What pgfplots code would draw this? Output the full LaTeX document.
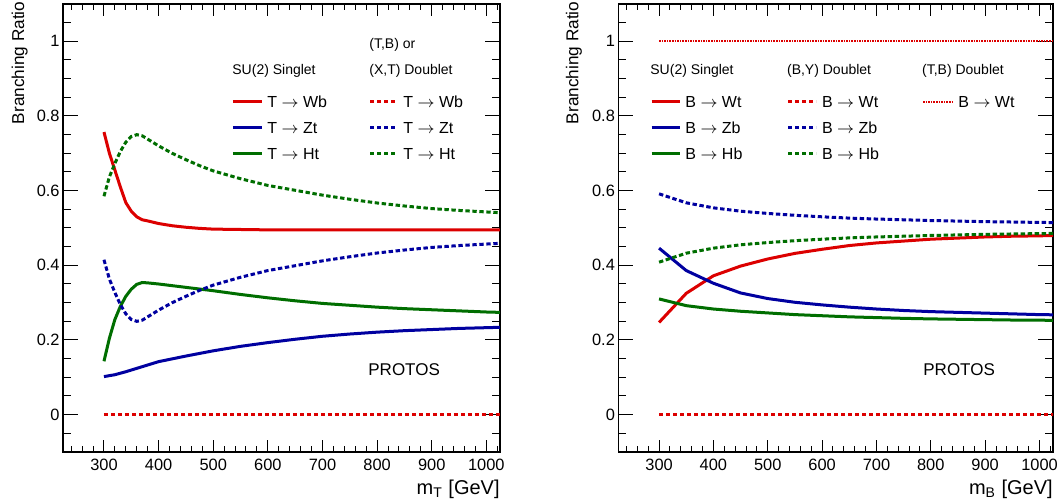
\documentclass[border=0pt]{standalone}
\usepackage{pgfplots}
\pgfplotsset{compat=1.18}
\usepackage{fontspec}
\setmainfont{Liberation Sans}
\definecolor{rred}{RGB}{220,0,0}
\definecolor{rblue}{RGB}{0,0,160}
\definecolor{rgreen}{RGB}{0,110,0}
\tikzset{
  solidl/.style={line width=1.5pt},
  dashl/.style={line width=1.5pt, dash pattern=on 2.2pt off 1.3pt},
  dotl/.style={line width=1.1pt, dash pattern=on 0.8pt off 0.5pt},
}
\pgfplotsset{rootax/.style={
  scale only axis, height=224pt,
  xmin=225, xmax=1025, ymin=-0.1, ymax=1.1,
  xtick={300,400,...,1000}, minor xtick={240,260,...,1020},
  ytick={0,0.2,0.4,0.6,0.8,1},
  minor ytick={-0.05,0.05,0.1,0.15,0.25,0.3,0.35,0.45,0.5,0.55,0.65,0.7,0.75,0.85,0.9,0.95,1.05},
  tick align=inside,
  axis line style={line width=0.6pt},
  every tick/.style={black, line width=0.5pt},
  xtick style={/pgfplots/major tick length=6.2pt, /pgfplots/minor tick length=3.2pt},
  ytick style={/pgfplots/major tick length=7.5pt, /pgfplots/minor tick length=4pt},
  ticklabel style={font=\fontsize{8.2}{9}\selectfont},
  yticklabel style={inner xsep=1.5pt},
  /pgf/number format/assume math mode=true,
  /pgf/number format/1000 sep={},
  xlabel style={at={(axis description cs:1,0)}, anchor=base east, yshift=-21.5pt, inner sep=0pt, font=\fontsize{10}{12}\selectfont},
  ylabel style={anchor=base east, inner sep=0pt, font=\fontsize{8.6}{10}\selectfont},
  ylabel={Branching Ratio},
  clip=true,
}}
\begin{document}
\begin{tikzpicture}
\useasboundingbox (-31.5pt,-26pt) rectangle (499.5pt,226pt);
% ---------------- left panel ----------------
\begin{axis}[rootax, at={(0pt,0pt)}, anchor=south west, width=218.5pt,
  xlabel={m\textsubscript{T} [GeV]},
  ylabel style={at={(axis description cs:-0.0892,1.006)}}]
\addplot[rred, solidl] coordinates {(300,0.757)(310,0.70)(320,0.655)(330,0.61)(340,0.568)(350,0.545)(360,0.53)(370,0.522)(380,0.519)(400,0.512)(425,0.506)(450,0.502)(475,0.499)(500,0.497)(550,0.496)(600,0.495)(700,0.495)(800,0.495)(900,0.495)(1000,0.495)(1050,0.495)};
\addplot[rblue, solidl] coordinates {(300,0.102)(320,0.107)(340,0.115)(360,0.124)(380,0.133)(400,0.142)(450,0.157)(500,0.171)(550,0.183)(600,0.193)(650,0.202)(700,0.210)(750,0.216)(800,0.221)(850,0.225)(900,0.228)(950,0.231)(1000,0.233)(1050,0.235)};
\addplot[rgreen, solidl] coordinates {(300,0.143)(310,0.205)(320,0.255)(330,0.29)(340,0.317)(350,0.336)(360,0.349)(370,0.354)(380,0.353)(400,0.35)(450,0.341)(500,0.332)(550,0.322)(600,0.313)(650,0.305)(700,0.298)(750,0.293)(800,0.288)(850,0.284)(900,0.281)(950,0.278)(1000,0.275)(1050,0.273)};
\addplot[rred, dashl] coordinates {(300,0)(1050,0)};
\addplot[rblue, dashl] coordinates {(300,0.415)(310,0.363)(320,0.327)(330,0.295)(340,0.27)(350,0.255)(360,0.25)(370,0.253)(380,0.262)(400,0.28)(425,0.30)(450,0.317)(475,0.333)(500,0.347)(550,0.368)(600,0.386)(650,0.399)(700,0.412)(750,0.423)(800,0.433)(850,0.441)(900,0.448)(950,0.453)(1000,0.457)(1050,0.461)};
\addplot[rgreen, dashl] coordinates {(300,0.585)(310,0.637)(320,0.673)(330,0.705)(340,0.73)(350,0.745)(360,0.75)(370,0.747)(380,0.738)(400,0.72)(425,0.70)(450,0.683)(475,0.667)(500,0.653)(550,0.632)(600,0.614)(650,0.601)(700,0.588)(750,0.577)(800,0.567)(850,0.559)(900,0.552)(950,0.547)(1000,0.543)(1050,0.539)};
\end{axis}
% ---------------- right panel ----------------
\begin{axis}[rootax, at={(277.65pt,0pt)}, anchor=south west, width=217.4pt,
  xlabel={m\textsubscript{B} [GeV]},
  ylabel style={at={(axis description cs:-0.092,1.006)}}]
\addplot[rred, solidl] coordinates {(300,0.247)(350,0.325)(400,0.372)(450,0.398)(500,0.417)(550,0.432)(600,0.443)(650,0.453)(700,0.46)(750,0.465)(800,0.47)(850,0.473)(900,0.476)(950,0.478)(1000,0.479)(1050,0.481)};
\addplot[rblue, solidl] coordinates {(300,0.446)(350,0.386)(400,0.352)(450,0.326)(500,0.311)(550,0.301)(600,0.294)(650,0.288)(700,0.283)(750,0.279)(800,0.276)(850,0.274)(900,0.272)(950,0.27)(1000,0.268)(1050,0.267)};
\addplot[rgreen, solidl] coordinates {(300,0.31)(350,0.292)(400,0.283)(450,0.277)(500,0.2725)(550,0.268)(600,0.265)(650,0.262)(700,0.26)(750,0.258)(800,0.2565)(850,0.2555)(900,0.2545)(950,0.2535)(1000,0.253)(1050,0.2525)};
\addplot[rred, dashl] coordinates {(300,0)(1050,0)};
\addplot[rblue, dashl] coordinates {(300,0.5915)(350,0.5675)(400,0.554)(450,0.545)(500,0.539)(550,0.534)(600,0.53)(650,0.5265)(700,0.524)(750,0.522)(800,0.52)(850,0.5185)(900,0.517)(950,0.516)(1000,0.515)(1050,0.514)};
\addplot[rgreen, dashl] coordinates {(300,0.4085)(350,0.4325)(400,0.446)(450,0.455)(500,0.461)(550,0.466)(600,0.47)(650,0.4735)(700,0.476)(750,0.478)(800,0.48)(850,0.4815)(900,0.483)(950,0.484)(1000,0.485)(1050,0.486)};
\addplot[rred, dotl] coordinates {(300,1)(1050,1)};
\end{axis}
% ---------------- legends ----------------
\begin{scope}[every node/.style={inner sep=0pt}]
\def\hf{\fontsize{7}{8}\selectfont}
\def\lf{\fontsize{8}{9}\selectfont}
% left
\node[anchor=west,font=\hf] at (153pt,203.5pt) {(T,B) or};
\node[anchor=west,font=\hf] at (84.5pt,190.5pt) {SU(2) Singlet};
\node[anchor=west,font=\hf] at (153pt,190.5pt) {(X,T) Doublet};
\draw[rred,solidl] (85pt,175pt) -- (99.5pt,175pt);
\draw[rblue,solidl] (85pt,162pt) -- (99.5pt,162pt);
\draw[rgreen,solidl] (85pt,149pt) -- (99.5pt,149pt);
\node[anchor=west,font=\lf] at (102pt,175pt) {T $\rightarrow$ Wb};
\node[anchor=west,font=\lf] at (102pt,162pt) {T $\rightarrow$ Zt};
\node[anchor=west,font=\lf] at (102pt,149pt) {T $\rightarrow$ Ht};
\draw[rred,dashl] (153.5pt,175pt) -- (167pt,175pt);
\draw[rblue,dashl] (153.5pt,162pt) -- (167pt,162pt);
\draw[rgreen,dashl] (153.5pt,149pt) -- (167pt,149pt);
\node[anchor=west,font=\lf] at (170pt,175pt) {T $\rightarrow$ Wb};
\node[anchor=west,font=\lf] at (170pt,162pt) {T $\rightarrow$ Zt};
\node[anchor=west,font=\lf] at (170pt,149pt) {T $\rightarrow$ Ht};
\node[anchor=west,font=\fontsize{8.5}{10}\selectfont] at (152.5pt,41pt) {PROTOS};
% right
\node[anchor=west,font=\hf] at (293.5pt,190.5pt) {SU(2) Singlet};
\node[anchor=west,font=\hf] at (361.85pt,190.5pt) {(B,Y) Doublet};
\node[anchor=west,font=\hf] at (429.35pt,190.5pt) {(T,B) Doublet};
\draw[rred,solidl] (294.35pt,175pt) -- (308.5pt,175pt);
\draw[rblue,solidl] (294.35pt,162pt) -- (308.5pt,162pt);
\draw[rgreen,solidl] (294.35pt,149pt) -- (308.5pt,149pt);
\node[anchor=west,font=\lf] at (311pt,175pt) {B $\rightarrow$ Wt};
\node[anchor=west,font=\lf] at (311pt,162pt) {B $\rightarrow$ Zb};
\node[anchor=west,font=\lf] at (311pt,149pt) {B $\rightarrow$ Hb};
\draw[rred,dashl] (362.5pt,175pt) -- (376.5pt,175pt);
\draw[rblue,dashl] (362.5pt,162pt) -- (376.5pt,162pt);
\draw[rgreen,dashl] (362.5pt,149pt) -- (376.5pt,149pt);
\node[anchor=west,font=\lf] at (379.35pt,175pt) {B $\rightarrow$ Wt};
\node[anchor=west,font=\lf] at (379.35pt,162pt) {B $\rightarrow$ Zb};
\node[anchor=west,font=\lf] at (379.35pt,149pt) {B $\rightarrow$ Hb};
\draw[rred,dotl] (430pt,175pt) -- (444.5pt,175pt);
\node[anchor=west,font=\lf] at (447.5pt,175pt) {B $\rightarrow$ Wt};
\node[anchor=west,font=\fontsize{8.5}{10}\selectfont] at (430pt,41pt) {PROTOS};
\end{scope}
\end{tikzpicture}
\end{document}
